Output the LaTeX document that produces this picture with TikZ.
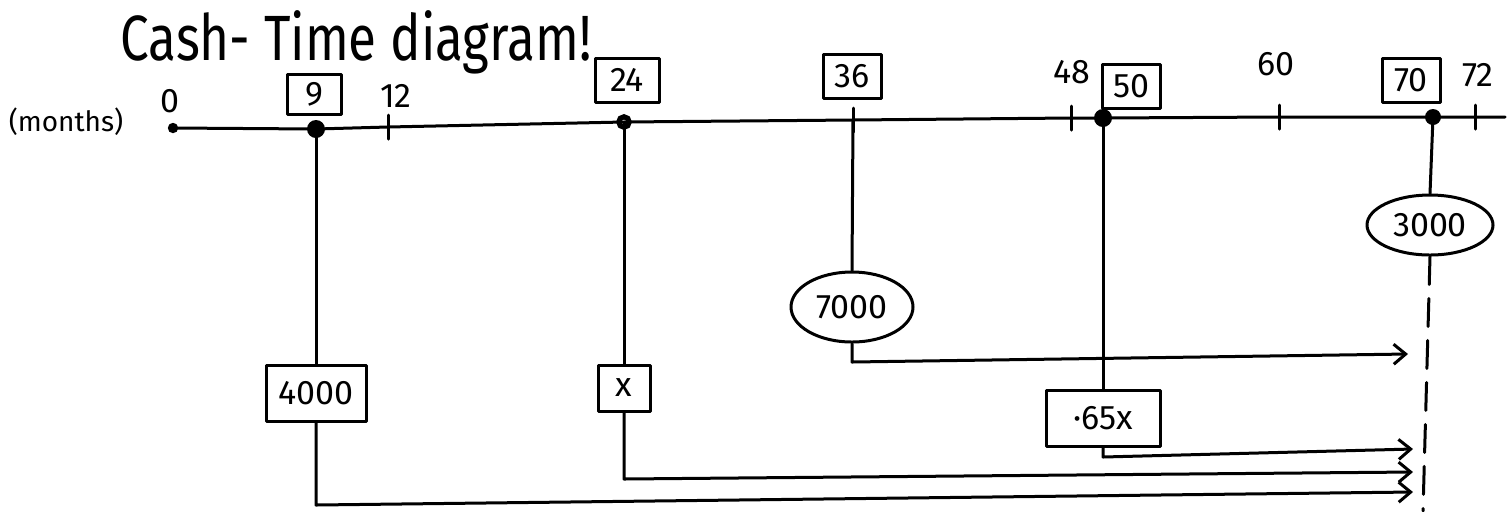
\documentclass[tikz,border=0pt]{standalone}
\usepackage{fontspec}
\setmainfont{Fira Sans}
\usetikzlibrary{arrows.meta,shapes.geometric}
\begin{document}
\begin{tikzpicture}[x=0.5pt,y=-0.5pt,
  pen/.style={line width=1.5pt, line cap=round, line join=round},
  lbl/.style={font=\fontsize{17}{20}\selectfont, inner sep=0pt},
  tbox/.style={draw, pen, rectangle, inner sep=0pt, font=\fontsize{17}{20}\selectfont},
  oval/.style={draw, pen, ellipse, inner sep=0pt, font=\fontsize{17}{20}\selectfont},
  arr/.style={pen, -{Straight Barb[length=6pt,width=10pt,line width=1.5pt]}},
  tick/.style={pen},
  dot/.style={fill=black}
]
\useasboundingbox (0,0) rectangle (1510,511);

% title
\node[inner sep=0pt] (title) at (356,42) {\scalebox{0.8}[1]{\fontsize{32}{36}\selectfont Cash- Time diagram!}};
\node[inner sep=0pt, font=\fontsize{14}{16}\selectfont] (months) at (66,122) {(months)};

% timeline points
\coordinate (t0) at (173,128);
\coordinate (t9) at (316,129);
\coordinate (t12) at (388,127);
\coordinate (t24) at (624,122);
\coordinate (t36) at (853,120);
\coordinate (t48) at (1071,118);
\coordinate (t50) at (1103,118);
\coordinate (t60) at (1279,117);
\coordinate (t70) at (1433,117);
\coordinate (t72) at (1475,117);
\coordinate (tend) at (1505,117);
\draw[pen] (t0) -- (t9) -- (t12) -- (t24) -- (t36) -- (t48) -- (t50) -- (t60) -- (t70) -- (t72) -- (tend);

% ticks
\foreach \t in {t12,t36,t48,t60,t72}
  \draw[tick] ([yshift=6pt]\t) -- ([yshift=-6pt]\t);

% dots
\fill[dot] (t0) circle[radius=2.6pt];
\fill[dot] (t9) circle[radius=4.5pt];
\draw[line width=2.6pt] (t24) circle[radius=2.6pt];
\fill[dot] (t50) circle[radius=4.5pt];
\fill[dot] (t70) circle[radius=4pt];

% top labels
\node[lbl] (l0) at (170,101) {0};
\node[tbox, minimum width=27pt, minimum height=20pt] (b9) at (314,94) {9};
\node[lbl] (l12) at (396,96) {12};
\node[tbox, minimum width=32pt, minimum height=22pt] (b24) at (627,80) {24};
\node[tbox, minimum width=29pt, minimum height=22pt] (b36) at (852,76) {36};
\node[lbl] (l48) at (1072,72) {48};
\node[tbox, minimum width=29pt, minimum height=22pt] (b50) at (1131,86) {50};
\node[lbl] (l60) at (1276,64) {60};
\node[tbox, minimum width=29pt, minimum height=22pt] (b70) at (1411,80) {70};
\node[lbl] (l72) at (1478,75) {72};

% lower nodes
\node[tbox, minimum width=50pt, minimum height=28pt] (v4000) at (316,393) {4000};
\node[tbox, minimum width=26pt, minimum height=23pt] (vx) at (624,388) {x};
\node[oval, minimum width=61pt, minimum height=35pt] (v7000) at (852,307) {7000};
\node[tbox, minimum width=57pt, minimum height=28pt] (v065) at (1103,418) {·65x};
\node[oval, minimum width=63pt, minimum height=30pt] (v3000) at (1430,225) {3000};

% corners and arrow end points
\coordinate (c7000) at (852,362);
\coordinate (a7000) at (1408,354);
\coordinate (c065) at (1103,457);
\coordinate (a065) at (1413,449);
\coordinate (cx) at (624,479);
\coordinate (ax) at (1413,472);
\coordinate (c4000) at (316,505);
\coordinate (a4000) at (1413,492);
\coordinate (dend) at (1423,511);

% connectors
\draw[pen] (t9) -- (v4000.north);
\draw[arr] (v4000.south) -- (c4000) -- (a4000);
\draw[pen] (t24) -- (vx.north);
\draw[arr] (vx.south) -- (cx) -- (ax);
\draw[pen] (t36) -- (v7000.north);
\draw[arr] (v7000.south) -- (c7000) -- (a7000);
\draw[pen] (t50) -- (v065.north);
\draw[arr] (v065.south) -- (c065) -- (a065);
\draw[pen] (t70) -- (v3000.north);
\draw[pen, dash pattern=on 14pt off 7pt] (v3000.south) -- (dend);
\end{tikzpicture}
\end{document}
